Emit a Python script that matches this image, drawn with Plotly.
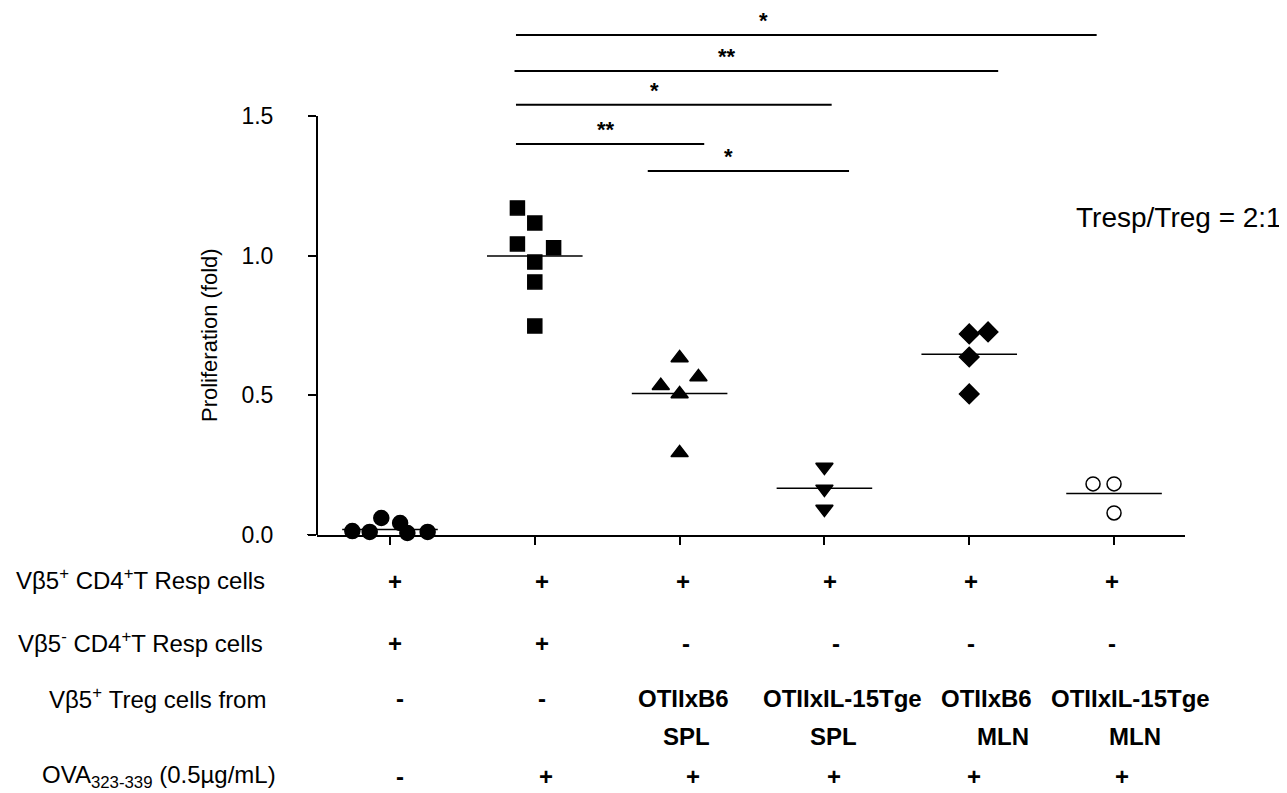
import numpy as np
import plotly.graph_objects as go

# proliferation (fold) per group
g1_circle = [0.014, 0.011, 0.061, -0.007, 0.043, 0.007, 0.011]
g2_square = [1.171, 1.117, 1.042, 1.028, 0.977, 0.906, 0.748]
g3_tri_up = [0.634, 0.566, 0.534, 0.505, 0.294]
g4_tri_down = [0.243, 0.165, 0.093]
g5_diamond = [0.720, 0.727, 0.637, 0.505]
g6_open = [0.183, 0.183, 0.079]

# horizontal scatter of the points within a group (group units)
g1_jit = [-0.26, -0.14, -0.06, 0.0, 0.07, 0.12, 0.26]
g2_jit = [-0.12, 0.0, -0.12, 0.13, 0.0, 0.0, 0.0]
g3_jit = [0.0, 0.13, -0.13, 0.0, 0.0]
g4_jit = [0.0, 0.0, 0.0]
g5_jit = [0.0, 0.13, 0.0, 0.0]
g6_jit = [-0.145, 0.0, 0.0]

# significance brackets
sig_x0 = [1.87, 1.86, 1.87, 1.87, 2.78]
sig_x1 = [5.88, 5.20, 4.05, 3.17, 4.17]
sig_y = [1.790, 1.661, 1.540, 1.400, 1.303]
sig_lbl = ["*", "**", "*", "**", "*"]
sig_lbl_x = [3.58, 3.33, 2.83, 2.49, 3.34]

# condition table under the plot
row_names = ["Vβ5<sup>+</sup> CD4<sup>+</sup>T Resp cells",
             "Vβ5<sup>-</sup> CD4<sup>+</sup>T Resp cells",
             "Vβ5<sup>+</sup> Treg cells from",
             "OVA<sub>323-339</sub> (0.5µg/mL)"]
resp_pos = ["+", "+", "+", "+", "+", "+"]
resp_neg = ["+", "+", "-", "-", "-", "-"]
treg_src = ["-", "-", "OTIIxB6", "OTIIxIL-15Tge", "OTIIxB6", "OTIIxIL-15Tge"]
treg_org = ["", "", "SPL", "SPL", "MLN", "MLN"]
ova = ["-", "+", "+", "+", "+", "+"]

groups = [g1_circle, g2_square, g3_tri_up, g4_tri_down, g5_diamond, g6_open]
jitters = [g1_jit, g2_jit, g3_jit, g4_jit, g5_jit, g6_jit]
symbols = ["circle", "square", "triangle-up", "triangle-down", "diamond", "circle-open"]
sizes = [15, 14, 15, 15, 15, 14]

FONT = "Liberation Sans, Arial, sans-serif"

fig = go.Figure()

for i, vals in enumerate(groups):
    g = i + 1
    m = np.mean(vals)
    fig.add_trace(go.Scatter(x=[g - 0.33, g + 0.33], y=[m, m], mode="lines",
                             line=dict(color="black", width=1.5), showlegend=False))
    fig.add_trace(go.Scatter(x=[g + j for j in jitters[i]], y=vals, mode="markers",
                             marker=dict(symbol=symbols[i], size=sizes[i], color="black",
                                         line=dict(color="black", width=1.5)),
                             cliponaxis=False, showlegend=False))

for x0, x1, y, lbl, lx in zip(sig_x0, sig_x1, sig_y, sig_lbl, sig_lbl_x):
    fig.add_trace(go.Scatter(x=[x0, x1], y=[y, y], mode="lines",
                             line=dict(color="black", width=2), showlegend=False))
    fig.add_annotation(x=lx, y=y + 0.052, text="<b>%s</b>" % lbl, showarrow=False,
                       font=dict(size=22, color="black", family=FONT))

# axis lines (y axis stops at 1.5, x axis pokes out a little to the left)
fig.add_shape(type="line", xref="paper", yref="y", x0=0, x1=0, y0=0, y1=1.5,
              line=dict(color="black", width=2))
fig.add_shape(type="line", xref="paper", yref="y", x0=-10 / 868, x1=0, y0=0, y1=0,
              line=dict(color="black", width=2))

fig.add_annotation(xref="paper", yref="paper", x=-0.1244, y=0.3795,
                   xanchor="center", yanchor="middle",
                   text="Proliferation (fold)", textangle=-90,
                   showarrow=False, font=dict(size=22, color="black", family=FONT))
fig.add_annotation(x=5.72, y=1.135, text="Tresp/Treg = 2:1", xanchor="left",
                   showarrow=False, font=dict(size=28, color="black", family=FONT))

# table rows
row_y = [-0.089, -0.205, -0.311, -0.383, -0.459]
row_lbl_y = [-0.084, -0.203, -0.309, -0.459]
row_lbl_x = [-0.058, -0.060, -0.0565, -0.045]
for name, lx, ly in zip(row_names, row_lbl_x, row_lbl_y):
    fig.add_annotation(xref="paper", yref="paper", x=lx, y=ly, text=name,
                       xanchor="right", yanchor="middle", showarrow=False,
                       font=dict(size=24, color="black", family=FONT))

shift_a = [10, 7, 4, 18, 17, 16]
shift_b = [0, 0, 7, 9, 34, 21]
for r, (cells, sh) in enumerate([(resp_pos, [5, 7, 3, 6, 2, -2]),
                                 (resp_neg, [5, 7, 6, 12, 2, -2]),
                                 (treg_src, shift_a),
                                 (treg_org, shift_b),
                                 (ova, [10, 11, 13, 10, 5, 8])]):
    for i, txt in enumerate(cells):
        if txt == "":
            continue
        fig.add_annotation(x=i + 1, yref="paper", y=row_y[r], text="<b>%s</b>" % txt,
                           xshift=sh[i], yanchor="middle", showarrow=False,
                           font=dict(size=24, color="black", family=FONT))

fig.update_layout(
    width=1279, height=785,
    margin=dict(l=309, r=102, t=0, b=258),
    plot_bgcolor="white", paper_bgcolor="white",
    font=dict(family=FONT, color="black"),
    xaxis=dict(range=[0.496, 6.49], showline=True, linecolor="black", linewidth=2,
               ticks="outside", tickvals=[1, 2, 3, 4, 5, 6], showticklabels=False,
               ticklen=8, tickwidth=2, tickcolor="black", automargin=False,
               showgrid=False, zeroline=False),
    yaxis=dict(range=[0, 1.8866], showline=False, ticks="outside",
               tickvals=[0, 0.5, 1.0, 1.5], ticktext=["0.0", "0.5", "1.0", "1.5"],
               ticklen=8, tickwidth=2, tickcolor="black", ticklabelstandoff=30,
               tickfont=dict(size=23, color="black", family=FONT), automargin=False,
               showgrid=False, zeroline=False),
)

fig.write_html("out.html")
